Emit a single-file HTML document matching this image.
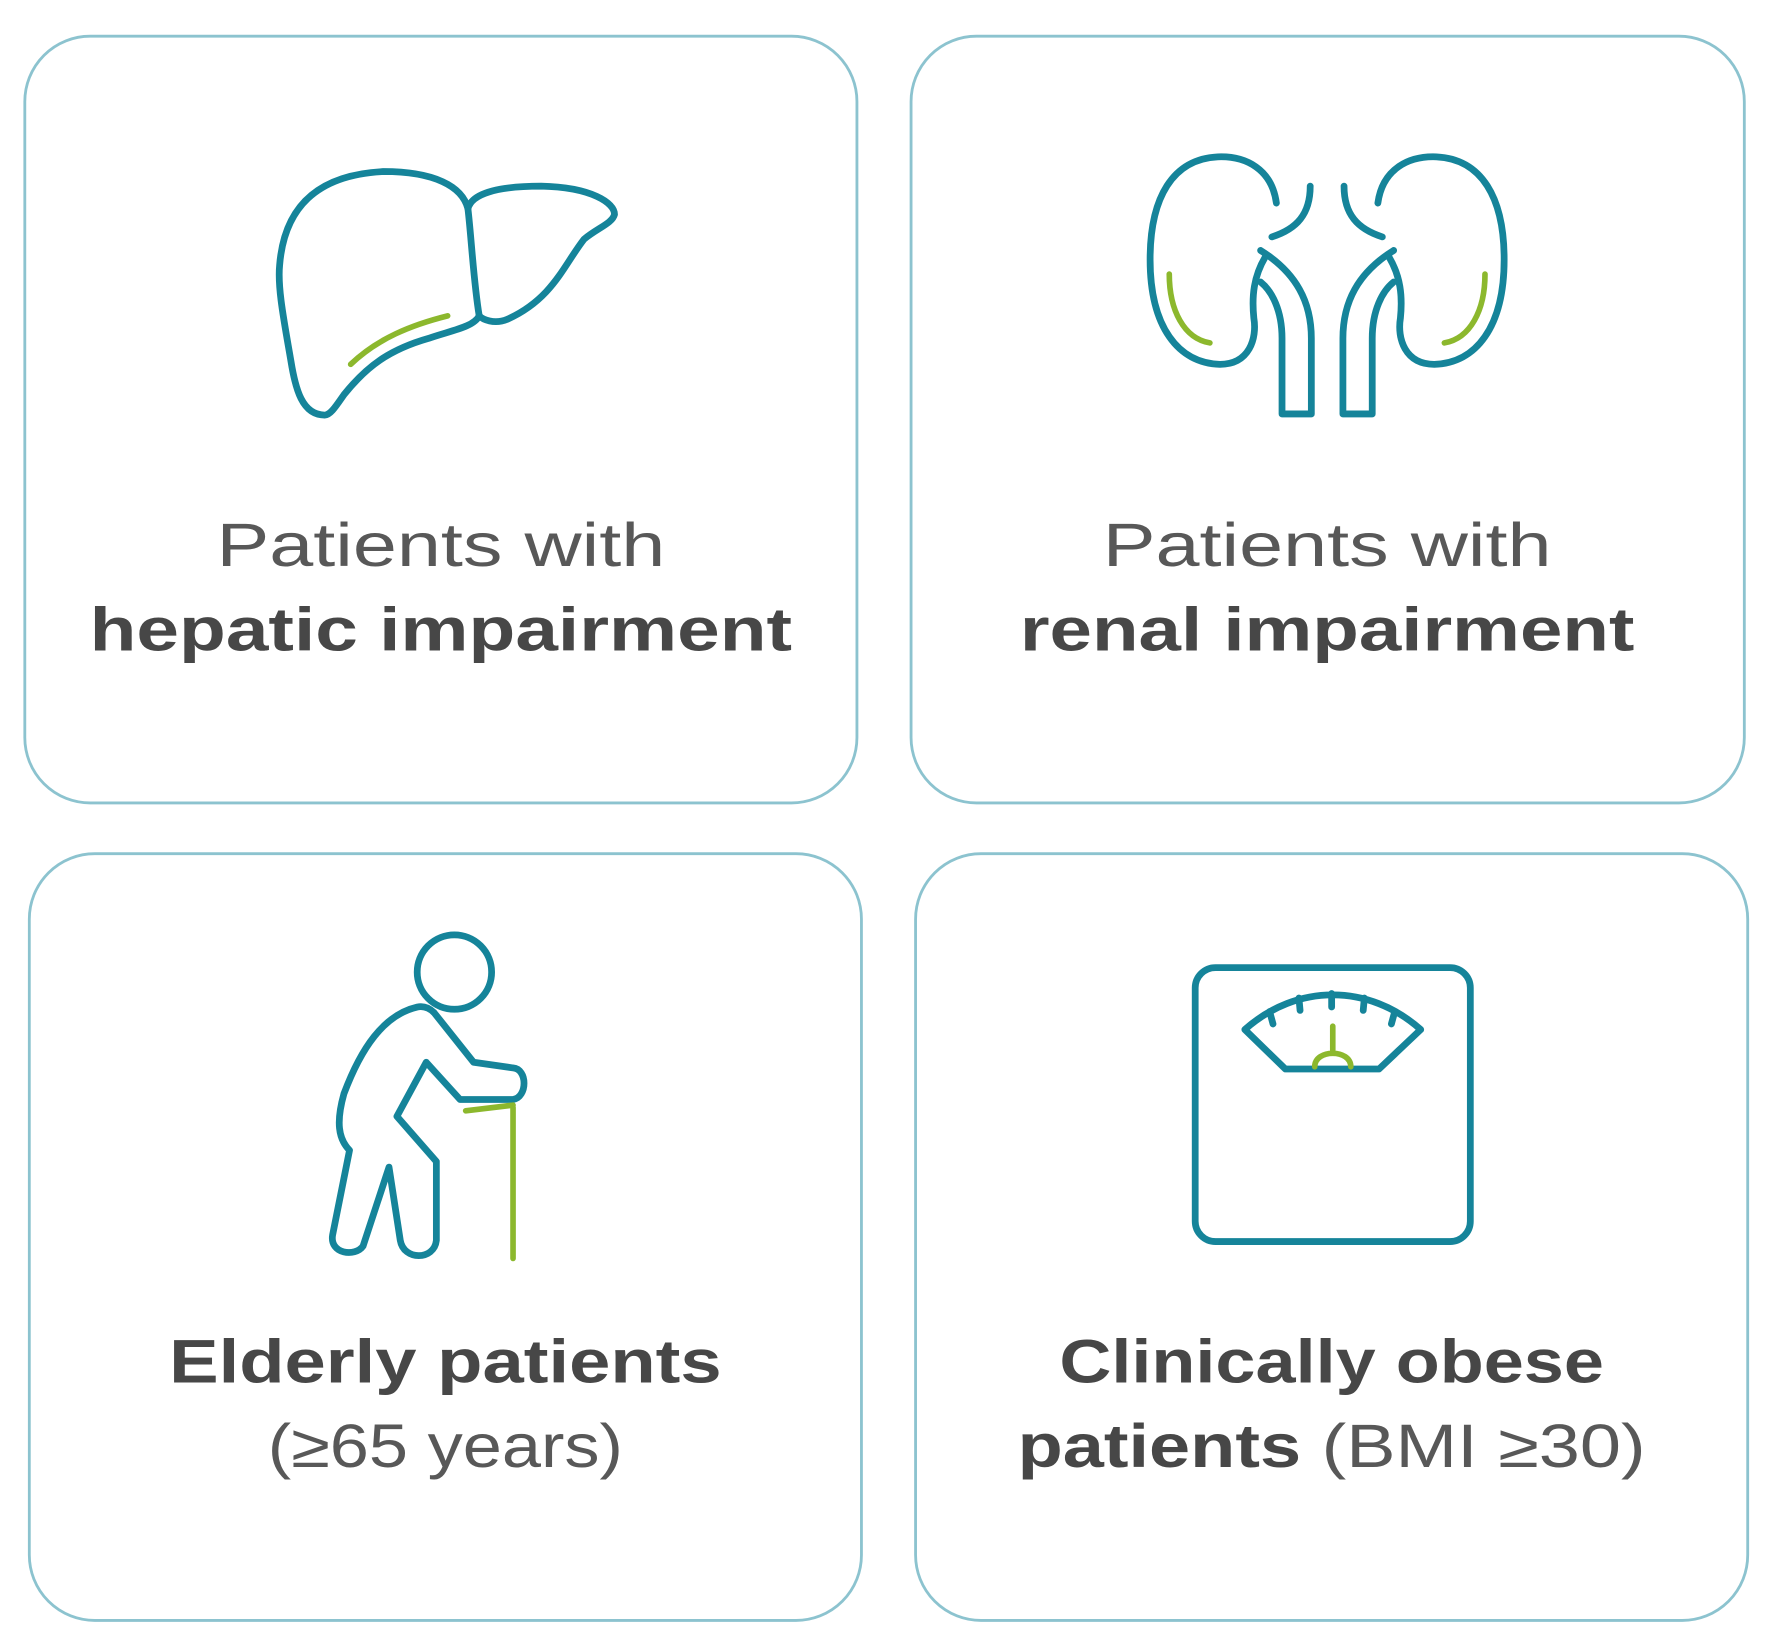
<!DOCTYPE html>
<html><head><meta charset="utf-8"><style>html,body{margin:0;padding:0;background:#fff}svg{display:block}</style></head>
<body>
<svg width="1768" height="1651" viewBox="0 0 1568 1464" xmlns="http://www.w3.org/2000/svg">
<g fill="none" stroke="#8cc3cf" stroke-width="2.5">
<rect x="22" y="32" width="738" height="680" rx="58"/>
<rect x="808" y="32" width="739" height="680" rx="58"/>
<rect x="26" y="757" width="738" height="680" rx="58"/>
<rect x="812" y="757" width="738" height="680" rx="58"/>
</g>
<g fill="none" stroke="#15849a" stroke-width="6" stroke-linejoin="round" stroke-linecap="round">
<path d="M288,368 C268,368 262,345 258,320 C252,285 246,255 248,235 C252,185 280,155 340,152 C385,152 410,165 415,185 C418,172 440,165 480,165 C525,166 545,180 545,190 C543,198 530,202 518,212 C500,235 490,265 450,283 C438,288 428,283 425,280 C420,290 400,293 380,300 C345,310 325,325 305,350 C298,360 293,368 288,368 Z"/>
<path d="M415,185 C418,210 420,250 425,280"/>
<path d="M1132,180 C1128,150 1105,138 1080,139 C1040,141 1020,175 1020,230 C1020,290 1045,322 1082,323 C1108,323 1115,300 1112,282 C1110,262 1112,245 1122,228"/>
<path d="M1118,222 C1150,242 1163,268 1163,300 L1163,367 L1137,367 L1137,300 C1137,275 1128,258 1118,250"/>
<path d="M1128,210 C1150,203 1162,190 1162,165"/>
<path d="M1222,180 C1226,150 1249,138 1274,139 C1314,141 1334,175 1334,230 C1334,290 1309,322 1272,323 C1246,323 1239,300 1242,282 C1244,262 1242,245 1232,228"/>
<path d="M1236,222 C1204,242 1191,268 1191,300 L1191,367 L1217,367 L1217,300 C1217,275 1226,258 1236,250"/>
<path d="M1226,210 C1204,203 1192,190 1192,165"/>
<circle cx="403" cy="862" r="33"/>
<path d="M370,893 C340,900 320,930 305,970 C298,995 300,1010 310,1020 L295,1095 C292,1112 315,1115 322,1105 L345,1035 L355,1100 C358,1118 385,1118 387,1100 L387,1030 L352,990 L378,942 L408,975 L455,975 C468,973 468,948 455,947 L420,942 L385,898 C380,893 375,892 370,893 Z"/>
<rect x="1060" y="858" width="244" height="243" rx="18"/>
<path d="M1104,913 C1150,872 1214,872 1260,913 L1223,948 L1140,948 Z"/>
<path d="M1126,897 L1129,908 M1152,885 L1153,896 M1181,881 L1181,893 M1210,885 L1209,896 M1237,897 L1234,908"/>
</g>
<g fill="none" stroke="#8cb82d" stroke-width="5" stroke-linecap="round">
<path d="M311,323 C335,300 365,288 397,280"/>
<path d="M1037,243 C1037,275 1050,300 1073,304"/>
<path d="M1317,243 C1317,275 1304,300 1281,304"/>
<path d="M455,982 L455,1116 M413,985 L455,980"/>
<path d="M1182,910 L1182,932 M1166,946 C1166,930 1198,930 1198,946"/>
</g>
<g font-family="Liberation Sans, sans-serif" font-size="54" text-anchor="middle" fill="#585858">
<text x="391" y="502" textLength="398" lengthAdjust="spacingAndGlyphs">Patients with</text>
<text x="391" y="577" font-weight="bold" fill="#474747" textLength="623" lengthAdjust="spacingAndGlyphs">hepatic impairment</text>
<text x="1177" y="502" textLength="398" lengthAdjust="spacingAndGlyphs">Patients with</text>
<text x="1177" y="577" font-weight="bold" fill="#474747" textLength="545" lengthAdjust="spacingAndGlyphs">renal impairment</text>
<text x="395" y="1226" font-weight="bold" fill="#474747" textLength="490" lengthAdjust="spacingAndGlyphs">Elderly patients</text>
<text x="395" y="1301" textLength="315" lengthAdjust="spacingAndGlyphs">(≥65 years)</text>
<text x="1181" y="1226" font-weight="bold" fill="#474747" textLength="483" lengthAdjust="spacingAndGlyphs">Clinically obese</text>
<text x="1181" y="1301" textLength="557" lengthAdjust="spacingAndGlyphs"><tspan font-weight="bold" fill="#474747">patients</tspan> (BMI ≥30)</text>
</g>
</svg>
</body></html>
